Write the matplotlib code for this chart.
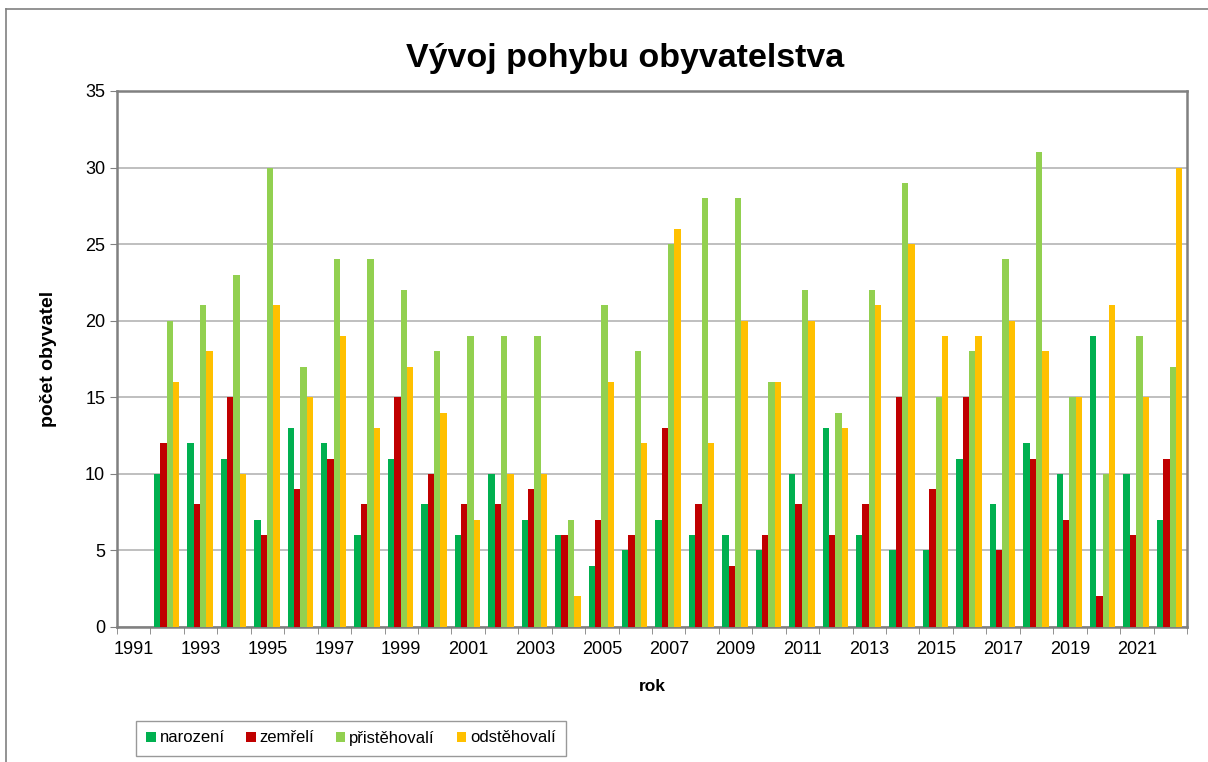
import numpy as np
import matplotlib.pyplot as plt
from matplotlib.lines import Line2D

plt.rcParams["font.family"] = ["Liberation Sans", "DejaVu Sans"]

roky = [1992, 1993, 1994, 1995, 1996, 1997, 1998, 1999, 2000, 2001,
        2002, 2003, 2004, 2005, 2006, 2007, 2008, 2009, 2010, 2011,
        2012, 2013, 2014, 2015, 2016, 2017, 2018, 2019, 2020, 2021, 2022]
narozeni = [10, 12, 11, 7, 13, 12, 6, 11, 8, 6, 10, 7, 6, 4, 5, 7,
            6, 6, 5, 10, 13, 6, 5, 5, 11, 8, 12, 10, 19, 10, 7]
zemreli = [12, 8, 15, 6, 9, 11, 8, 15, 10, 8, 8, 9, 6, 7, 6, 13,
           8, 4, 6, 8, 6, 8, 15, 9, 15, 5, 11, 7, 2, 6, 11]
pristehovali = [20, 21, 23, 30, 17, 24, 24, 22, 18, 19, 19, 19, 7, 21, 18, 25,
                28, 28, 16, 22, 14, 22, 29, 15, 18, 24, 31, 15, 10, 19, 17]
odstehovali = [16, 18, 10, 21, 15, 19, 13, 17, 14, 7, 10, 10, 2, 16, 12, 26,
               12, 20, 16, 20, 13, 21, 25, 19, 19, 20, 18, 15, 21, 15, 30]
popisky_x = [1991, 1993, 1995, 1997, 1999, 2001, 2003, 2005, 2007, 2009,
             2011, 2013, 2015, 2017, 2019, 2021]

serie = [("narození", narozeni, "#00B050"),
         ("zemřelí", zemreli, "#C00000"),
         ("přistěhovalí", pristehovali, "#92D050"),
         ("odstěhovalí", odstehovali, "#FFC000")]

fig = plt.figure(figsize=(12.08, 7.62), dpi=100)
ax = fig.add_axes([0.0969, 0.1772, 0.8857, 0.7034])

x = np.array(roky)
w = 0.19
for i, (nazev, hodnoty, barva) in enumerate(serie):
    ax.bar(x + (i - 1.6) * w, hodnoty, width=w, color=barva, label=nazev, zorder=3)

ax.set_xlim(1990.5, 2022.5)
ax.set_ylim(0, 35)
ax.set_yticks(range(0, 36, 5))
ax.yaxis.grid(True, color="#B4B4B4", linewidth=1.2, zorder=0)

ax.set_xticks(popisky_x)
ax.set_xticks(np.arange(1990.5, 2023, 1), minor=True)
ax.tick_params(axis="x", which="major", length=0, labelsize=13, pad=10)
ax.tick_params(axis="x", which="minor", length=5, color="#808080", direction="out")
ax.tick_params(axis="y", length=5, color="#808080", labelsize=13, direction="out")

for s in ax.spines.values():
    s.set_color("#808080")
    s.set_linewidth(1.8)

fig.text(625 / 1208, 1 - 58 / 762, "Vývoj pohybu obyvatelstva", fontsize=24.5,
         fontweight="bold", ha="center", va="center")
ax.set_ylabel("počet obyvatel", fontsize=14, fontweight="bold", labelpad=20)
ax.set_xlabel("rok", fontsize=12.5, fontweight="bold", labelpad=15)

leg = ax.legend(loc="center", bbox_to_anchor=(351 / 1208, 1 - 738 / 762),
                bbox_transform=fig.transFigure,
                ncol=4, frameon=True, fancybox=False, fontsize=12,
                handlelength=0.55, handleheight=0.55, handletextpad=0.25,
                columnspacing=1.3, borderpad=0.6, borderaxespad=0)
leg.get_frame().set_edgecolor("#808080")
leg.get_frame().set_linewidth(1.0)

# outer chart frame (cropped on the right and bottom)
fig.add_artist(Line2D([0.005, 1.0], [1 - 9 / 762, 1 - 9 / 762], color="#808080", linewidth=1.2))
fig.add_artist(Line2D([0.005, 0.005], [0.0, 1 - 9 / 762], color="#808080", linewidth=1.2))

fig.savefig("out.png", dpi=100)
